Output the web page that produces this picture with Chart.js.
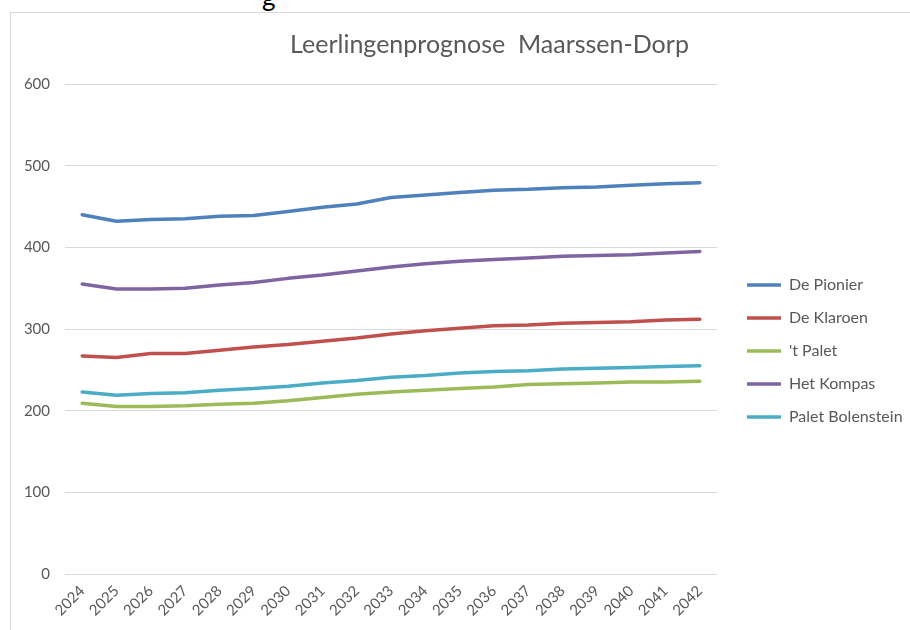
<!DOCTYPE html>
<html>
<head>
<meta charset="utf-8">
<script src="https://cdn.jsdelivr.net/npm/chart.js@4/dist/chart.umd.min.js"></script>
<style>
  html, body { margin: 0; padding: 0; background: #ffffff; overflow: hidden; width: 910px; height: 630px; }
  #frame { position: absolute; left: 10px; top: 12px; width: 957px; height: 722px; border-left: 1px solid #d9d9d9; border-top: 1px solid #d9d9d9; }
  #c { display: block; }
  #cut { position: absolute; left: 262px; top: -20px; font: 26px Lato, sans-serif; color: #000; }
</style>
</head>
<body>
<div id="cut">g</div>
<div id="frame"><canvas id="c" width="957" height="722" style="width:957px;height:722px"></canvas></div>
<script>
const years = ['2024','2025','2026','2027','2028','2029','2030','2031','2032','2033','2034','2035','2036','2037','2038','2039','2040','2041','2042'];
const dePionier       = [440, 432, 434, 435, 438, 439, 444, 449, 453, 461, 464, 467, 470, 471, 473, 474, 476, 478, 479];
const deKlaroen       = [267, 265, 270, 270, 274, 278, 281, 285, 289, 294, 298, 301, 304, 305, 307, 308, 309, 311, 312];
const tPalet          = [209, 205, 205, 206, 208, 209, 212, 216, 220, 223, 225, 227, 229, 232, 233, 234, 235, 235, 236];
const hetKompas       = [355, 349, 349, 350, 354, 357, 362, 366, 371, 376, 380, 383, 385, 387, 389, 390, 391, 393, 395];
const paletBolenstein = [223, 219, 221, 222, 225, 227, 230, 234, 237, 241, 243, 246, 248, 249, 251, 252, 253, 254, 255];
const yTicks = [0, 100, 200, 300, 400, 500, 600];

const FONT = 'Lato, "Open Sans", sans-serif';
const GREY = '#595959';

function ds(label, data, color) {
  return {
    label, data,
    borderColor: color, backgroundColor: color,
    borderWidth: 3.5, pointRadius: 0, pointHoverRadius: 0,
    borderCapStyle: 'round', borderJoinStyle: 'round',
    tension: 0, fill: false
  };
}

const legendWidthPlugin = {
  id: 'legendWidth',
  beforeInit(chart) {
    const origFit = chart.legend.fit;
    chart.legend.fit = function () {
      origFit.call(this);
      this.width = 238;
    };
  }
};

new Chart(document.getElementById('c'), {
  type: 'line',
  data: {
    labels: years,
    datasets: [
      ds('De Pionier', dePionier, '#4F81BD'),
      ds('De Klaroen', deKlaroen, '#C0504D'),
      ds("'t Palet", tPalet, '#9BBB59'),
      ds('Het Kompas', hetKompas, '#8064A2'),
      ds('Palet Bolenstein', paletBolenstein, '#4BACC6')
    ]
  },
  plugins: [legendWidthPlugin],
  options: {
    responsive: false,
    maintainAspectRatio: false,
    animation: false,
    layout: { padding: { left: 0, right: 0, top: 0, bottom: 46 } },
    plugins: {
      tooltip: { enabled: false },
      title: {
        display: true,
        text: 'Leerlingenprognose  Maarssen-Dorp',
        color: GREY,
        font: { family: FONT, size: 25, weight: 'normal' },
        padding: { top: 17, bottom: 24 }
      },
      legend: {
        position: 'right',
        align: 'center',
        labels: {
          usePointStyle: true,
          pointStyle: 'line',
          pointStyleWidth: 34,
          boxHeight: 4,
          padding: 17,
          color: GREY,
          font: { family: FONT, size: 16 }
        }
      }
    },
    scales: {
      x: {
        offset: true,
        grid: { display: false },
        border: { display: false },
        ticks: {
          color: GREY, font: { family: FONT, size: 15 },
          minRotation: 45, maxRotation: 45, autoSkip: false, padding: 0
        },
        afterFit(s) { s.height = 115; }
      },
      y: {
        min: 0, max: 600,
        afterBuildTicks(s) { s.ticks = yTicks.map(v => ({ value: v })); },
        grid: { color: '#d9d9d9', lineWidth: 1, drawTicks: false },
        border: { display: false },
        ticks: { color: GREY, font: { family: FONT, size: 15 }, padding: 15 },
        afterFit(s) { s.width = 54; }
      },
      yR: {
        position: 'right',
        display: true,
        grid: { display: false },
        border: { display: false },
        ticks: { display: false },
        afterFit(s) { s.width = 13; }
      }
    }
  }
});
</script>
</body>
</html>
